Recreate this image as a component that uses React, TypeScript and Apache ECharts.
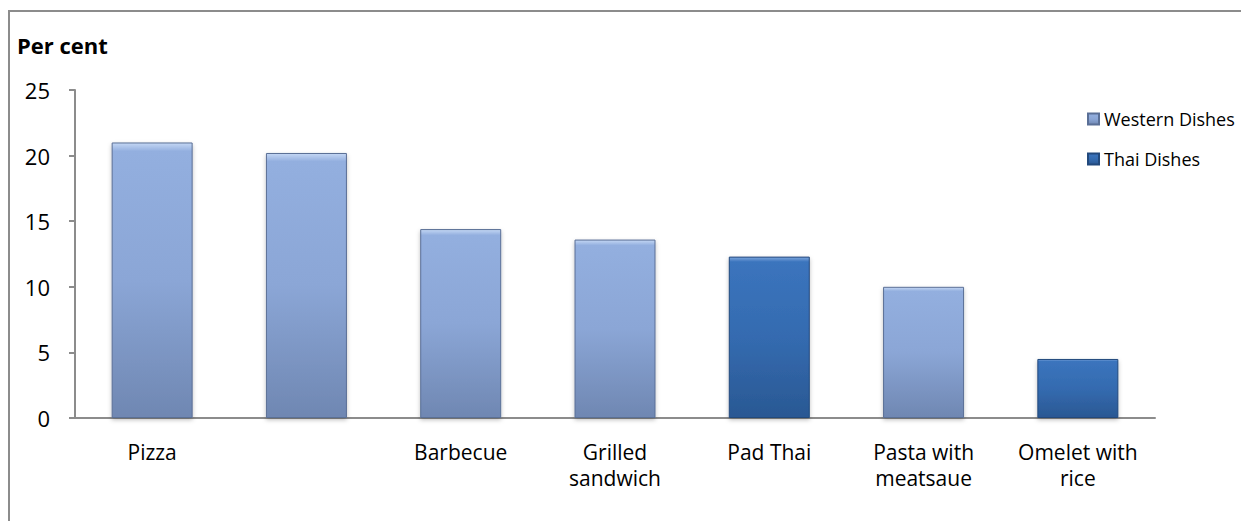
import React, { useEffect, useRef } from "react";
import * as echarts from "echarts";

const categories = ["Pizza", "", "Barbecue", "Grilled\nsandwich", "Pad Thai", "Pasta with\nmeatsaue", "Omelet with\nrice"];
const westernValues = [21.0, 20.2, 14.4, 13.6, null, 10.0, null];
const thaiValues = [null, null, null, null, 12.3, null, 4.5];
const yTicks = [0, 5, 10, 15, 20, 25];

const FONT = "Open Sans";

const westernFill = new echarts.graphic.LinearGradient(0, 0, 0, 1, [
  { offset: 0, color: "#c4d7f4" },
  { offset: 0.03, color: "#93afdf" },
  { offset: 0.5, color: "#8ba6d6" },
  { offset: 1, color: "#6f87b2" },
]);
const thaiFill = new echarts.graphic.LinearGradient(0, 0, 0, 1, [
  { offset: 0, color: "#7ea6dc" },
  { offset: 0.03, color: "#3b74bd" },
  { offset: 0.5, color: "#346bb0" },
  { offset: 1, color: "#2a5893" },
]);

export default function App() {
  const ref = useRef<HTMLDivElement>(null);
  useEffect(() => {
    if (!ref.current) return;
    const chart = echarts.init(ref.current, null, { renderer: "svg" });
    chart.setOption({
      animation: false,
      backgroundColor: "#ffffff",
      textStyle: { fontFamily: FONT },
      graphic: [
        {
          type: "rect",
          shape: { x: 9, y: 11, width: 1300, height: 600 },
          style: { fill: "none", stroke: "#8c8c8c", lineWidth: 2 },
          silent: true,
        },
        {
          type: "text",
          left: 17,
          top: 34,
          style: { text: "Per cent", font: `bold 22px '${FONT}'`, fill: "#000" },
        },
      ],
      legend: {
        orient: "vertical",
        left: 1082,
        top: 105,
        itemWidth: 11,
        itemHeight: 11,
        itemGap: 22,
        icon: "rect",
        textStyle: { fontSize: 18, color: "#000", fontFamily: FONT },
        data: ["Western Dishes", "Thai Dishes"],
      },
      grid: { left: 75, right: 86, top: 90, bottom: 103, containLabel: false },
      xAxis: {
        type: "category",
        data: categories,
        axisLine: { lineStyle: { color: "#8c8c8c", width: 2 } },
        axisTick: { show: false },
        axisLabel: { color: "#000", fontSize: 21, margin: 21, lineHeight: 26, interval: 0 },
      },
      yAxis: {
        type: "value",
        min: 0,
        max: 25,
        interval: 5,
        splitLine: { show: false },
        axisLine: { show: true, lineStyle: { color: "#8c8c8c", width: 2 } },
        axisTick: { show: true, length: 6, lineStyle: { color: "#8c8c8c", width: 2 } },
        axisLabel: {
          color: "#000",
          fontSize: 22,
          margin: 25,
          formatter: (v: number) => (yTicks.includes(v) ? String(v) : ""),
        },
      },
      series: [
        {
          name: "Western Dishes",
          type: "bar",
          data: westernValues,
          barWidth: 81,
          barGap: "-100%",
          itemStyle: {
            color: westernFill,
            borderColor: "#5a6f96",
            borderWidth: 1,
            shadowColor: "rgba(0,0,0,0.25)",
            shadowBlur: 4,
            shadowOffsetY: 2,
          },
        },
        {
          name: "Thai Dishes",
          type: "bar",
          data: thaiValues,
          barWidth: 81,
          itemStyle: {
            color: thaiFill,
            borderColor: "#22497c",
            borderWidth: 1,
            shadowColor: "rgba(0,0,0,0.25)",
            shadowBlur: 4,
            shadowOffsetY: 2,
          },
        },
      ],
    });
    return () => chart.dispose();
  }, []);
  return (
    <div
      ref={ref}
      style={{ position: "fixed", left: 0, top: 0, width: 1241, height: 521 }}
    />
  );
}
